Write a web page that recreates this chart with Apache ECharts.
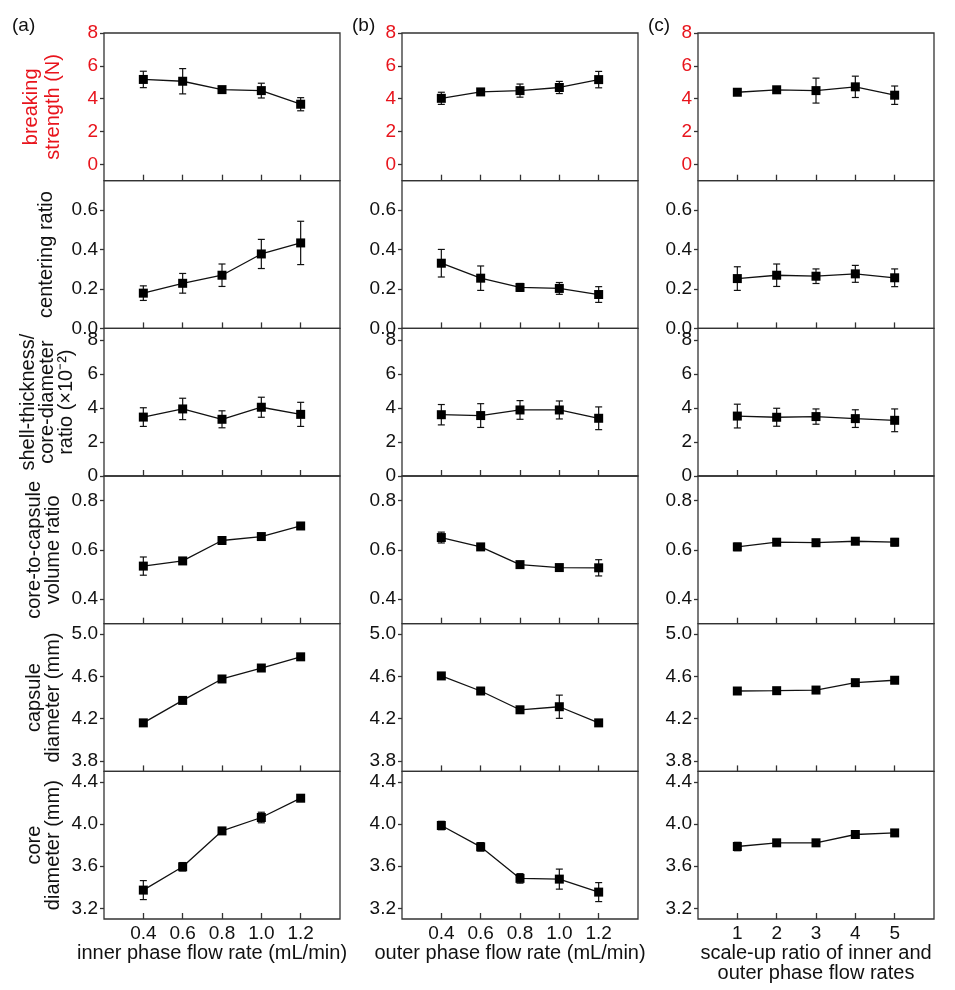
<!DOCTYPE html>
<html>
<head>
<meta charset="utf-8">
<script src="https://cdn.jsdelivr.net/npm/echarts@6/dist/echarts.min.js"></script>
<style>
  html, body { margin: 0; padding: 0; background: #fff; }
  #chart { width: 955px; height: 990px; }
</style>
</head>
<body>
<div id="chart"></div>
<script>
// x values for each column
var innerFlow = [0.4, 0.6, 0.8, 1.0, 1.2];
var outerFlow = [0.4, 0.6, 0.8, 1.0, 1.2];
var scaleUp = [1, 2, 3, 4, 5];

// (a) inner phase flow rate
var breakingA = [5.17, 5.06, 4.55, 4.49, 3.66];
var breakingAErr = [0.50, 0.77, 0.10, 0.45, 0.40];
var centeringA = [0.179, 0.229, 0.270, 0.378, 0.434];
var centeringAErr = [0.037, 0.050, 0.057, 0.074, 0.110];
var shellA = [3.47, 3.95, 3.34, 4.05, 3.63];
var shellAErr = [0.55, 0.63, 0.50, 0.59, 0.71];
var volumeA = [0.534, 0.555, 0.638, 0.654, 0.697];
var volumeAErr = [0.037, 0.010, 0.008, 0.012, 0.010];
var capsuleA = [4.160, 4.373, 4.576, 4.680, 4.786];
var capsuleAErr = [0.030, 0.020, 0.012, 0.020, 0.010];
var coreA = [3.374, 3.595, 3.935, 4.062, 4.245];
var coreAErr = [0.090, 0.040, 0.020, 0.050, 0.020];

// (b) outer phase flow rate
var breakingB = [4.02, 4.41, 4.49, 4.68, 5.16];
var breakingBErr = [0.37, 0.12, 0.40, 0.37, 0.50];
var centeringB = [0.331, 0.255, 0.208, 0.203, 0.172];
var centeringBErr = [0.070, 0.062, 0.020, 0.030, 0.040];
var shellB = [3.61, 3.56, 3.89, 3.89, 3.40];
var shellBErr = [0.60, 0.70, 0.55, 0.53, 0.67];
var volumeB = [0.650, 0.612, 0.540, 0.528, 0.527];
var volumeBErr = [0.022, 0.012, 0.012, 0.012, 0.033];
var capsuleB = [4.605, 4.462, 4.284, 4.313, 4.160];
var capsuleBErr = [0.010, 0.020, 0.015, 0.110, 0.030];
var coreB = [3.986, 3.784, 3.485, 3.478, 3.355];
var coreBErr = [0.040, 0.040, 0.045, 0.095, 0.090];

// (c) scale-up ratio
var breakingC = [4.39, 4.54, 4.49, 4.72, 4.21];
var breakingCErr = [0.15, 0.10, 0.76, 0.65, 0.56];
var centeringC = [0.253, 0.270, 0.265, 0.277, 0.257];
var centeringCErr = [0.060, 0.057, 0.037, 0.043, 0.045];
var shellC = [3.53, 3.46, 3.50, 3.38, 3.28];
var shellCErr = [0.70, 0.53, 0.45, 0.52, 0.67];
var volumeC = [0.612, 0.631, 0.629, 0.635, 0.631];
var volumeCErr = [0.015, 0.008, 0.008, 0.010, 0.015];
var capsuleC = [4.462, 4.465, 4.471, 4.541, 4.564];
var capsuleCErr = [0.030, 0.015, 0.015, 0.015, 0.015];
var coreC = [3.787, 3.822, 3.822, 3.901, 3.916];
var coreCErr = [0.040, 0.020, 0.020, 0.025, 0.030];

// axis ticks
var yTicks = [
    [0, 2, 4, 6, 8],
    [0, 0.2, 0.4, 0.6],
    [0, 2, 4, 6, 8],
    [0.4, 0.6, 0.8],
    [3.8, 4.2, 4.6, 5.0],
    [3.2, 3.6, 4.0, 4.4]
];
var yRange = [[-1, 8], [0, 0.75], [0, 8.7], [0.3, 0.9], [3.7, 5.1], [3.1, 4.5]];
var yDigits = [0, 1, 0, 1, 1, 1];
var yNames = [
    'breaking\nstrength (N)',
    'centering ratio',
    'shell-thickness/\ncore-diameter\nratio (\u00d710\u207b\u00b2)',
    'core-to-capsule\nvolume ratio',
    'capsule\ndiameter (mm)',
    'core\ndiameter (mm)'
];
var flowTicks = [0.4, 0.6, 0.8, 1.0, 1.2];
var ratioTicks = [1, 2, 3, 4, 5];
var xNames = [
    'inner phase flow rate (mL/min)',
    'outer phase flow rate (mL/min)',
    'scale-up ratio of inner and\nouter phase flow rates'
];
var panelLabels = ['(a)', '(b)', '(c)'];

var columns = [
    {x: innerFlow, ticks: flowTicks, range: [0.2, 1.4], digits: 1,
     ys: [breakingA, centeringA, shellA, volumeA, capsuleA, coreA],
     errs: [breakingAErr, centeringAErr, shellAErr, volumeAErr, capsuleAErr, coreAErr]},
    {x: outerFlow, ticks: flowTicks, range: [0.2, 1.4], digits: 1,
     ys: [breakingB, centeringB, shellB, volumeB, capsuleB, coreB],
     errs: [breakingBErr, centeringBErr, shellBErr, volumeBErr, capsuleBErr, coreBErr]},
    {x: scaleUp, ticks: ratioTicks, range: [0, 6], digits: 0,
     ys: [breakingC, centeringC, shellC, volumeC, capsuleC, coreC],
     errs: [breakingCErr, centeringCErr, shellCErr, volumeCErr, capsuleCErr, coreCErr]}
];

var FONT = '"Liberation Sans", Arial, Helvetica, sans-serif';
var RED = '#e8141c';
var colLeft = [104, 402, 698];
var rowTop = [33, 180.7, 328.3, 476, 623.7, 771.3];
var cellW = 236, cellH = 147.7;
var nameGaps = [40, 48, 28, 41, 41, 41];

function renderErr(params, api) {
    var x = api.value(0);
    var top = api.coord([x, api.value(2)]);
    var bot = api.coord([x, api.value(1)]);
    var w = 3.5;
    var st = {stroke: '#111', lineWidth: 1.2};
    return {
        type: 'group',
        children: [
            {type: 'line', shape: {x1: top[0], y1: top[1], x2: bot[0], y2: bot[1]}, style: st},
            {type: 'line', shape: {x1: top[0] - w, y1: top[1], x2: top[0] + w, y2: top[1]}, style: st},
            {type: 'line', shape: {x1: bot[0] - w, y1: bot[1], x2: bot[0] + w, y2: bot[1]}, style: st}
        ]
    };
}

var grids = [], xAxes = [], yAxes = [], series = [], graphics = [];

columns.forEach(function (col, c) {
    graphics.push({
        type: 'text', left: colLeft[c] - (c === 0 ? 92 : 50), top: 16,
        style: {text: panelLabels[c], fontSize: 19, fontFamily: FONT, fill: '#111'}
    });
    for (var r = 0; r < 6; r++) {
        var idx = grids.length;
        var last = r === 5;
        grids.push({
            left: colLeft[c], top: rowTop[r], width: cellW, height: cellH,
            show: true, borderColor: '#333', borderWidth: 1.3, backgroundColor: 'transparent'
        });
        (function (digitsX, digitsY) {
            xAxes.push({
                type: 'value', gridIndex: idx, min: col.range[0], max: col.range[1],
                axisLine: {show: false, onZero: false},
                splitLine: {show: false},
                axisTick: {show: true, inside: true, length: 6, customValues: col.ticks,
                           lineStyle: {color: '#333', width: 1.3}},
                axisLabel: {show: last, customValues: col.ticks, margin: 5,
                            fontSize: 19, fontFamily: FONT, color: '#111',
                            formatter: function (v) { return v.toFixed(digitsX); }},
                name: last ? xNames[c] : '',
                nameLocation: 'middle', nameGap: 24,
                nameTextStyle: {fontSize: 20, fontFamily: FONT, color: '#111', lineHeight: 20,
                                padding: c < 2 ? [0, 20, 0, 0] : 0}
            });
            yAxes.push({
                type: 'value', gridIndex: idx, min: yRange[r][0], max: yRange[r][1],
                axisLine: {show: false, onZero: false},
                splitLine: {show: false},
                axisTick: {show: true, inside: false, length: 4, customValues: yTicks[r],
                           lineStyle: {color: '#333', width: 1.3}},
                axisLabel: {customValues: yTicks[r], margin: 6,
                            fontSize: 19, fontFamily: FONT, color: r === 0 ? RED : '#111',
                            formatter: function (v) { return v.toFixed(digitsY); }},
                name: c === 0 ? yNames[r] : '',
                nameLocation: 'middle', nameGap: nameGaps[r],
                nameTextStyle: {fontSize: 20, fontFamily: FONT, color: r === 0 ? RED : '#111',
                                lineHeight: r === 0 ? 22 : 19}
            });
        })(col.digits, yDigits[r]);

        var pts = [], bars = [];
        for (var i = 0; i < col.x.length; i++) {
            pts.push([col.x[i], col.ys[r][i]]);
            bars.push([col.x[i], col.ys[r][i] - col.errs[r][i], col.ys[r][i] + col.errs[r][i]]);
        }
        series.push({
            type: 'custom', xAxisIndex: idx, yAxisIndex: idx,
            renderItem: renderErr, data: bars, encode: {x: 0, y: [1, 2]},
            z: 2, silent: true
        });
        series.push({
            type: 'line', xAxisIndex: idx, yAxisIndex: idx, data: pts,
            symbol: 'rect', symbolSize: 9, showSymbol: true,
            lineStyle: {color: '#111', width: 1.3},
            itemStyle: {color: '#000'},
            z: 3, silent: true, animation: false
        });
    }
});

var myChart = echarts.init(document.getElementById('chart'));

var option = {
    backgroundColor: '#fff',
    animation: false,
    grid: grids,
    xAxis: xAxes,
    yAxis: yAxes,
    series: series,
    graphic: graphics
};

myChart.setOption(option);
</script>
</body>
</html>
